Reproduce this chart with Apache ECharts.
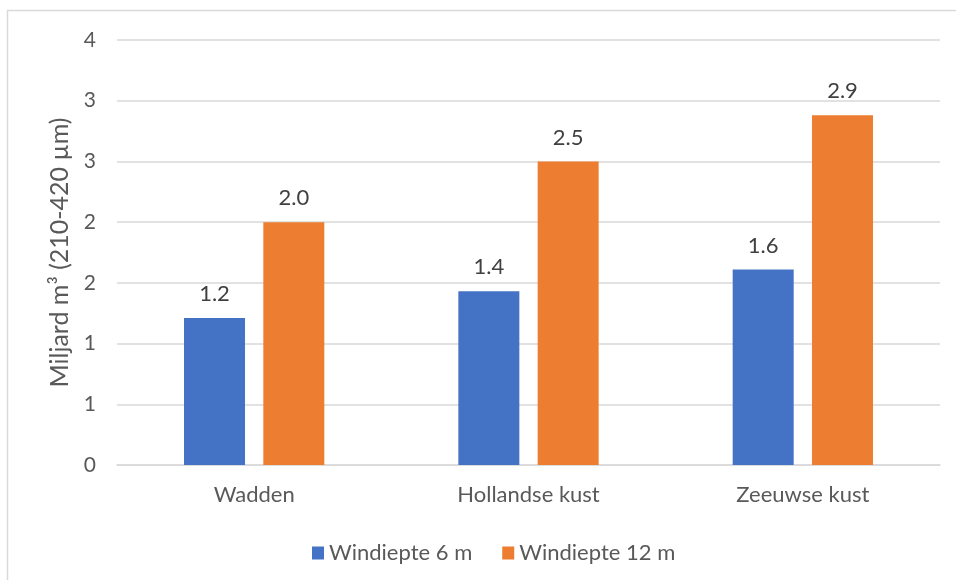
<!DOCTYPE html>
<html><head><meta charset="utf-8">
<script src="https://cdn.jsdelivr.net/npm/echarts@6/dist/echarts.min.js"></script>
<style>html,body{margin:0;padding:0;background:#fff}#c{width:956px;height:580px}</style>
</head><body><div id="c"></div>
<script>
const categories = ['Wadden', 'Hollandse kust', 'Zeeuwse kust'];
const seriesNames = ['Windiepte 6 m', 'Windiepte 12 m'];
const wind6 = [1.21, 1.43, 1.61];
const wind12 = [2.0, 2.5, 2.88];
const yTitle = 'Miljard m³ (210-420 µm)';

const font = 'Lato, "Open Sans", sans-serif';
const chart = echarts.init(document.getElementById('c'));
chart.setOption({
  animation: false,
  textStyle: { fontFamily: font },
  graphic: [{ type: 'rect', shape: { x: 7.5, y: 10.5, width: 960, height: 600 }, style: { fill: 'none', stroke: '#d9d9d9', lineWidth: 1.5 }, z: -1 }],
  grid: { left: 117, right: 16, top: 40, bottom: 115 },
  legend: {
    top: 537, left: 307, itemWidth: 12, itemHeight: 13, itemGap: 30,
    icon: 'rect',
    textStyle: { color: '#595959', fontSize: 22, fontFamily: font }
  },
  xAxis: {
    type: 'category', data: categories,
    axisLine: { lineStyle: { color: '#d9d9d9', width: 1.5 } },
    axisTick: { show: false },
    axisLabel: { color: '#595959', fontSize: 22, margin: 19 }
  },
  yAxis: {
    type: 'value', min: 0, max: 3.5, interval: 0.5,
    name: yTitle, nameLocation: 'middle', nameGap: 44, nameRotate: 90,
    nameTextStyle: { color: '#595959', fontSize: 25 },
    axisLine: { show: false }, axisTick: { show: false },
    axisLabel: { color: '#595959', fontSize: 21, margin: 21, formatter: v => String(Math.round(v)) },
    splitLine: { lineStyle: { color: '#d9d9d9', width: 1.5 } }
  },
  series: [
    { name: seriesNames[0], type: 'bar', data: wind6, itemStyle: { color: '#4472c4' },
      barWidth: 61, barGap: '30%',
      label: { show: true, position: 'top', distance: 13, color: '#404040', fontSize: 22, formatter: p => p.value.toFixed(1) } },
    { name: seriesNames[1], type: 'bar', data: wind12, itemStyle: { color: '#ed7d31' },
      barWidth: 61,
      label: { show: true, position: 'top', distance: 13, color: '#404040', fontSize: 22, formatter: p => p.value.toFixed(1) } }
  ]
});
</script></body></html>
